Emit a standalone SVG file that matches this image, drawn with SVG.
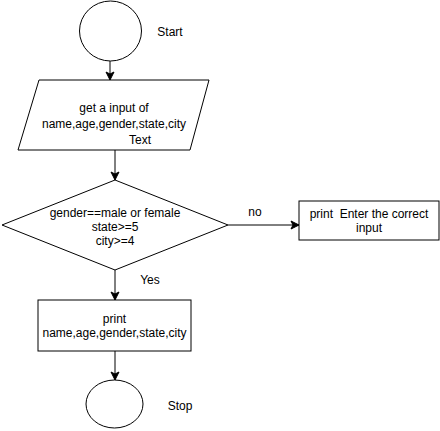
<svg xmlns="http://www.w3.org/2000/svg" width="440" height="431" viewBox="0 0 440 431">
  <style>
    .shape { fill: #ffffff; stroke: #000000; stroke-width: 1; }
    .edge { fill: none; stroke: #000000; stroke-width: 1; }
    text { font-family: "Liberation Sans", Arial, sans-serif; font-size: 12px; fill: #000000; }
    .c { text-anchor: middle; }
  </style>
  <defs>
    <marker id="arrow" viewBox="0 0 10 10" refX="9" refY="5" markerWidth="10" markerHeight="10" markerUnits="userSpaceOnUse" orient="auto">
      <path d="M1,1 L9,5 L1,9 L3,5 Z" fill="#000000" stroke="#000000" stroke-width="1"/>
    </marker>
  </defs>
  <rect width="440" height="431" fill="#ffffff"/>

  <g id="connectors">
    <line class="edge" x1="110" y1="61" x2="110" y2="80" marker-end="url(#arrow)"/>
    <line class="edge" x1="115" y1="150" x2="115" y2="180" marker-end="url(#arrow)"/>
    <line class="edge" x1="228" y1="225" x2="299" y2="225" marker-end="url(#arrow)"/>
    <line class="edge" x1="115" y1="270" x2="115" y2="300" marker-end="url(#arrow)"/>
    <line class="edge" x1="115" y1="351" x2="115" y2="380" marker-end="url(#arrow)"/>
    <text x="255" y="216" class="c">no</text>
    <text x="150" y="284" class="c">Yes</text>
  </g>

  <g id="start">
    <ellipse class="shape" cx="110.5" cy="31" rx="31" ry="30"/>
    <text x="170" y="36" class="c">Start</text>
  </g>

  <g id="input">
    <polygon class="shape" points="39,80 209,80 190,150 18,150"/>
    <text x="114" y="112" class="c">get a input of</text>
    <text x="114" y="128" class="c">name,age,gender,state,city</text>
    <text x="140" y="144" class="c">Text</text>
  </g>

  <g id="decision">
    <polygon class="shape" points="115,180 228,225 115,270 2,225"/>
    <text x="115" y="217" class="c">gender==male or female</text>
    <text x="115" y="231" class="c">state&gt;=5</text>
    <text x="115" y="245" class="c">city&gt;=4</text>
  </g>

  <g id="error">
    <rect class="shape" x="299" y="201" width="140" height="39"/>
    <text x="369" y="218" class="c" xml:space="preserve">print  Enter the correct</text>
    <text x="369" y="232" class="c">input</text>
  </g>

  <g id="output">
    <rect class="shape" x="38" y="300" width="153" height="51"/>
    <text x="114.5" y="323" class="c">print</text>
    <text x="114.5" y="337" class="c">name,age,gender,state,city</text>
  </g>

  <g id="stop">
    <ellipse class="shape" cx="114.5" cy="404" rx="28.5" ry="24"/>
    <text x="180" y="410" class="c">Stop</text>
  </g>
</svg>
